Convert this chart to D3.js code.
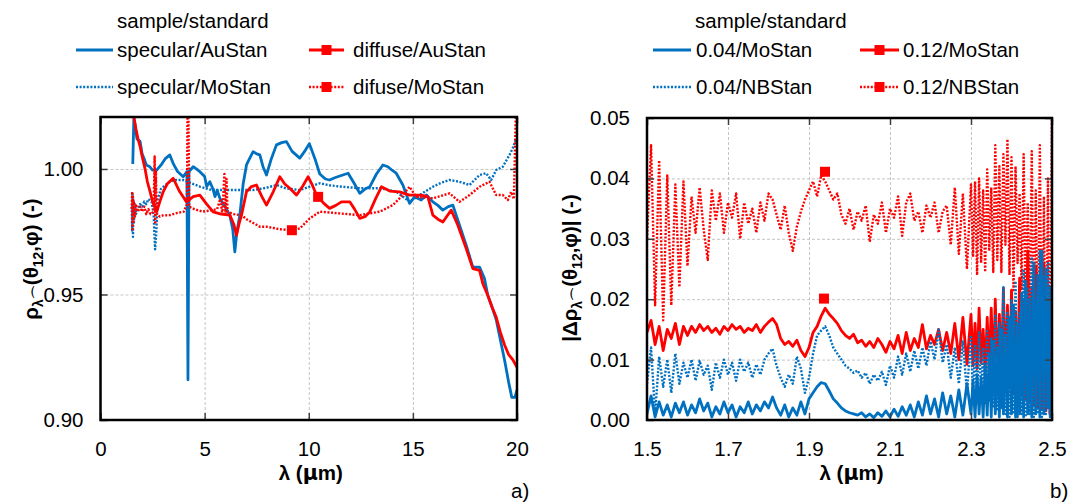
<!DOCTYPE html>
<html>
<head>
<meta charset="utf-8">
<script src="https://cdn.jsdelivr.net/npm/d3@7"></script>
<style>
body{margin:0;background:#fff;}
text{font-family:"Liberation Sans",Arial,sans-serif;fill:#000;}
</style>
</head>
<body>
<svg id="chart" width="1072" height="504"></svg>
<script>
// ---- panel a) : reflectance ratio vs wavelength, [lambda, rho] pairs
var specAu = [[1.55,1.002],[1.6,1.02],[1.65,1.018],[1.75,1.012],[1.9,1.011],[2.0,1.006],[2.1,1.004],[2.2,1.0016],[2.35,1.001],[2.5,0.9995],[2.7,0.9996],[2.9,1.0015],[3.1,1.004],[3.33,1.0056],[3.5,1.002],[3.7,0.999],[3.97,0.9969],[4.15,0.999],[4.2,0.916],[4.25,0.999],[4.45,1.0009],[4.6,1.0],[4.77,0.9989],[5.0,0.997],[5.1,0.993],[5.25,0.9949],[5.4,0.992],[5.5,0.989],[5.6,0.9915],[5.73,0.9884],[5.9,0.986],[6.05,0.984],[6.21,0.9816],[6.35,0.976],[6.45,0.967],[6.55,0.975],[6.69,0.9816],[6.85,0.994],[7.01,1.0016],[7.15,1.004],[7.33,1.0069],[7.5,1.006],[7.65,1.0056],[7.8,1.001],[7.97,0.9976],[8.2,1.004],[8.45,1.0096],[8.7,1.0105],[8.93,1.0109],[9.2,1.007],[9.57,1.0043],[9.8,1.007],[10.03,1.0101],[10.3,1.004],[10.53,0.998],[10.8,0.996],[11.0,0.9956],[11.25,0.9965],[11.49,0.9972],[11.89,0.9983],[12.2,0.994],[12.45,0.9903],[12.7,0.992],[12.93,0.9929],[13.25,0.998],[13.56,1.0016],[13.8,1.0009],[14.0,0.9995],[14.2,0.9983],[14.52,0.9936],[14.84,0.9863],[15.08,0.9889],[15.4,0.9876],[15.65,0.9896],[15.96,0.9869],[16.2,0.9855],[16.44,0.9836],[16.7,0.985],[16.92,0.9856],[17.24,0.9776],[17.56,0.9696],[17.88,0.9609],[18.2,0.9609],[18.44,0.9563],[18.6,0.9496],[18.8,0.945],[19.0,0.940],[19.2,0.932],[19.4,0.924],[19.6,0.915],[19.75,0.909],[19.9,0.909],[20.0,0.912]];
var specMo = [[1.5,0.985],[1.52,0.975],[1.54,0.99],[1.56,0.973],[1.58,0.988],[1.6,0.978],[1.65,0.986],[1.7,0.982],[1.8,0.984],[1.9,0.986],[2.0,0.985],[2.1,0.987],[2.2,0.986],[2.3,0.988],[2.45,0.987],[2.55,0.982],[2.62,0.968],[2.68,0.975],[2.75,0.988],[2.9,0.992],[3.1,0.9935],[3.33,0.995],[3.6,0.9956],[3.97,0.9956],[4.3,0.9945],[4.77,0.993],[5.25,0.9918],[5.73,0.9916],[6.21,0.9916],[6.69,0.9916],[7.33,0.9916],[7.97,0.9925],[8.45,0.9936],[8.93,0.9922],[9.57,0.9916],[10.05,0.993],[10.53,0.9943],[11.0,0.9935],[11.49,0.993],[12.45,0.9923],[13.41,0.9923],[14.2,0.991],[14.84,0.9869],[15.32,0.9896],[15.96,0.9929],[16.36,0.9945],[16.76,0.9956],[17.24,0.9949],[17.72,0.9936],[18.2,0.9976],[18.52,0.9983],[18.76,0.9956],[19.0,0.9996],[19.32,1.0009],[19.64,1.0056],[19.8,1.0083],[19.95,1.012]];
var diffAu = [[1.6,1.021],[1.7,1.016],[1.8,1.012],[1.9,1.009],[2.0,1.005],[2.14,1.0],[2.25,0.995],[2.38,0.991],[2.5,0.987],[2.7,0.983],[2.85,0.987],[3.01,0.9909],[3.2,0.994],[3.49,0.9963],[3.8,0.991],[4.13,0.9869],[4.45,0.989],[4.77,0.9896],[5.1,0.986],[5.41,0.9829],[5.8,0.982],[6.21,0.9816],[6.4,0.978],[6.53,0.9736],[6.65,0.978],[6.77,0.9816],[7.01,0.9909],[7.25,0.993],[7.49,0.9936],[7.75,0.989],[7.97,0.9856],[8.3,0.991],[8.61,0.9969],[8.85,0.994],[9.09,0.9923],[9.41,0.9896],[9.7,0.993],[9.97,0.9969],[10.15,0.994],[10.37,0.9896],[10.7,0.9865],[11.0,0.9843],[11.3,0.9855],[11.57,0.9869],[11.97,0.9869],[12.2,0.984],[12.45,0.9803],[12.7,0.981],[12.93,0.9829],[13.2,0.988],[13.49,0.9929],[13.89,0.9912],[14.36,0.9909],[14.84,0.9896],[15.4,0.9896],[15.72,0.9889],[15.96,0.9816],[16.2,0.980],[16.44,0.9789],[16.84,0.9836],[17.16,0.9776],[17.56,0.9683],[17.88,0.9603],[18.2,0.9596],[18.36,0.9543],[18.6,0.9496],[18.8,0.945],[19.0,0.941],[19.2,0.935],[19.4,0.93],[19.6,0.926],[19.8,0.924],[20.0,0.921]];
var diffMo = [[1.5,0.984],[1.52,0.991],[1.54,0.976],[1.56,0.989],[1.58,0.979],[1.6,0.987],[1.65,0.981],[1.7,0.986],[1.8,0.983],[1.9,0.985],[2.0,0.983],[2.1,0.985],[2.2,0.982],[2.3,0.984],[2.4,0.982],[2.55,0.983],[2.6,1.005],[2.63,0.978],[2.66,0.999],[2.7,0.982],[2.85,0.981],[3.0,0.9815],[3.33,0.9816],[3.7,0.9825],[4.0,0.983],[4.15,0.986],[4.18,1.025],[4.22,1.025],[4.26,0.985],[4.5,0.984],[4.9,0.983],[5.3,0.9835],[5.6,0.984],[5.75,0.988],[5.85,0.982],[5.95,0.998],[6.0,0.982],[6.05,0.996],[6.1,0.983],[6.4,0.982],[6.8,0.9815],[7.0,0.980],[7.33,0.9785],[7.65,0.977],[7.97,0.977],[8.3,0.9765],[8.6,0.976],[9.19,0.9756],[9.57,0.9763],[10.05,0.9803],[10.53,0.983],[11.49,0.9823],[12.45,0.9816],[13.41,0.983],[14.04,0.9856],[14.52,0.9896],[14.84,0.9929],[15.16,0.9889],[15.96,0.9883],[16.76,0.9903],[17.24,0.9869],[17.72,0.9896],[18.2,0.9929],[18.68,0.9949],[19.0,0.9896],[19.32,0.9896],[19.56,0.9876],[19.72,0.9909],[19.85,0.988],[19.95,1.025]];
var diffAuMark = [[10.45,0.9889]];
var diffMoMark = [[9.19,0.9756]];

var aXTicks = [0,5,10,15,20];
var aYTicks = [0.90,0.95,1.00];

// ---- panel b) : absolute difference vs wavelength
var lam = [1.50,1.51,1.52,1.53,1.54,1.55,1.56,1.57,1.58,1.59,
  1.60,1.61,1.62,1.63,1.64,1.65,1.66,1.67,1.68,1.69,
  1.70,1.71,1.72,1.73,1.74,1.75,1.76,1.77,1.78,1.79,
  1.80,1.81,1.82,1.83,1.84,1.85,1.86,1.87,1.88,1.89,
  1.90,1.91,1.92,1.93,1.94,1.95,1.96,1.97,1.98,1.99,
  2.00,2.01,2.02,2.03,2.04,2.05,2.06,2.07,2.08,2.09,
  2.10,2.11,2.12,2.13,2.14,2.15,2.16,2.17,2.18,2.19,
  2.20,2.21,2.22,2.23,2.24,2.25,2.26,2.27,2.28,2.29,
  2.300,2.305,2.310,2.315,2.320,2.325,2.330,2.335,2.340,2.345,
  2.350,2.355,2.360,2.365,2.370,2.375,2.380,2.385,2.390,2.395,
  2.400,2.405,2.410,2.415,2.420,2.425,2.430,2.435,2.440,2.445,
  2.450,2.455,2.460,2.465,2.470,2.475,2.480,2.485,2.490,2.495,
  2.500];
var mo04 = [0.0010,0.0040,0.0005,0.0030,0.0008,0.0025,0.0005,0.0028,0.0012,0.0030,
  0.0008,0.0025,0.0012,0.0035,0.0015,0.0028,0.0005,0.0022,0.0010,0.0030,
  0.0012,0.0025,0.0005,0.0022,0.0012,0.0030,0.0010,0.0025,0.0015,0.0030,
  0.0020,0.0038,0.0020,0.0008,0.0025,0.0005,0.0020,0.0008,0.0030,0.0010,
  0.0035,0.0045,0.0055,0.0062,0.0060,0.0048,0.0035,0.0028,0.0020,0.0015,
  0.0012,0.0010,0.0008,0.0012,0.0005,0.0010,0.0004,0.0012,0.0006,0.0015,
  0.0005,0.0018,0.0006,0.0022,0.0008,0.0025,0.0005,0.0030,0.0008,0.0040,
  0.0010,0.0035,0.0005,0.0045,0.0010,0.0040,0.0005,0.0050,0.0008,0.0060,
  0.0010,0.0065,0.0005,0.0075,0.0010,0.0070,0.0005,0.0090,0.0008,0.0110,
  0.0005,0.0130,0.0010,0.0120,0.0005,0.0150,0.0010,0.0140,0.0005,0.0170,
  0.0010,0.0190,0.0005,0.0160,0.0010,0.0210,0.0005,0.0230,0.0010,0.0200,
  0.0005,0.0260,0.0010,0.0240,0.0005,0.0280,0.0010,0.0250,0.0020,0.0220,
  0.0150];
var nb04 = [0.0060,0.0120,0.0010,0.0105,0.0055,0.0100,0.0045,0.0110,0.0060,0.0095,
  0.0070,0.0100,0.0065,0.0098,0.0075,0.0090,0.0050,0.0095,0.0070,0.0100,
  0.0075,0.0095,0.0065,0.0100,0.0080,0.0095,0.0070,0.0092,0.0075,0.0100,
  0.0110,0.0118,0.0090,0.0070,0.0055,0.0075,0.0060,0.0105,0.0085,0.0045,
  0.0070,0.0110,0.0140,0.0148,0.0155,0.0140,0.0120,0.0110,0.0100,0.0090,
  0.0085,0.0078,0.0082,0.0070,0.0078,0.0060,0.0075,0.0065,0.0080,0.0058,
  0.0090,0.0070,0.0105,0.0075,0.0110,0.0080,0.0115,0.0085,0.0120,0.0090,
  0.0130,0.0100,0.0150,0.0095,0.0125,0.0070,0.0120,0.0060,0.0130,0.0045,
  0.0140,0.0040,0.0125,0.0030,0.0145,0.0035,0.0120,0.0025,0.0150,0.0030,
  0.0135,0.0020,0.0175,0.0015,0.0160,0.0020,0.0220,0.0010,0.0180,0.0005,
  0.0200,0.0010,0.0230,0.0005,0.0180,0.0010,0.0250,0.0005,0.0220,0.0010,
  0.0270,0.0005,0.0200,0.0010,0.0280,0.0005,0.0240,0.0010,0.0260,0.0005,
  0.0210];
var mo12 = [0.0145,0.0165,0.0125,0.0155,0.0115,0.0150,0.0135,0.0160,0.0125,0.0155,
  0.0140,0.0155,0.0145,0.0158,0.0148,0.0155,0.0145,0.0152,0.0142,0.0155,
  0.0148,0.0158,0.0150,0.0155,0.0145,0.0152,0.0148,0.0158,0.0145,0.0155,
  0.0162,0.0168,0.0158,0.0135,0.0125,0.0130,0.0122,0.0132,0.0115,0.0105,
  0.0120,0.0145,0.0155,0.0172,0.0185,0.0175,0.0168,0.0160,0.0148,0.0140,
  0.0135,0.0142,0.0128,0.0132,0.0122,0.0130,0.0120,0.0135,0.0125,0.0112,
  0.0130,0.0118,0.0140,0.0110,0.0145,0.0115,0.0135,0.0120,0.0158,0.0118,
  0.0140,0.0125,0.0150,0.0115,0.0145,0.0110,0.0160,0.0100,0.0170,0.0092,
  0.0175,0.0090,0.0160,0.0085,0.0185,0.0095,0.0150,0.0080,0.0170,0.0085,
  0.0185,0.0075,0.0200,0.0065,0.0175,0.0070,0.0218,0.0060,0.0190,0.0055,
  0.0215,0.0045,0.0180,0.0050,0.0235,0.0040,0.0200,0.0035,0.0280,0.0030,
  0.0220,0.0025,0.0255,0.0020,0.0215,0.0020,0.0260,0.0015,0.0200,0.0010,
  0.0150];
var nb12 = [0.030,0.0455,0.019,0.043,0.0165,0.0405,0.019,0.039,0.022,0.0395,
  0.0255,0.037,0.031,0.0385,0.0315,0.0265,0.038,0.033,0.0375,0.031,
  0.036,0.0335,0.0375,0.030,0.036,0.0325,0.035,0.031,0.036,0.033,
  0.0375,0.0365,0.034,0.0315,0.0355,0.031,0.028,0.032,0.0345,0.0365,
  0.038,0.0395,0.037,0.0405,0.0395,0.038,0.0365,0.0375,0.034,0.0325,
  0.035,0.0315,0.0345,0.033,0.0355,0.0295,0.034,0.0325,0.036,0.031,
  0.035,0.0335,0.037,0.0305,0.036,0.0375,0.033,0.0345,0.031,0.0355,
  0.0335,0.036,0.031,0.0345,0.0355,0.029,0.0385,0.0275,0.0375,0.025,
  0.039,0.027,0.0395,0.024,0.040,0.026,0.038,0.0245,0.0415,0.028,
  0.0385,0.0245,0.0455,0.0265,0.042,0.0245,0.044,0.029,0.0465,0.024,
  0.0435,0.0215,0.042,0.026,0.0375,0.0215,0.044,0.019,0.036,0.016,
  0.0445,0.012,0.038,0.009,0.0455,0.005,0.037,0.002,0.040,0.001,
  0.052];
var mo12Mark = [[1.937,0.0201]];
var nb12Mark = [[1.9395,0.0411]];

var bXTicks = [1.5,1.7,1.9,2.1,2.3,2.5];
var bYTicks = [0.00,0.01,0.02,0.03,0.04,0.05];

var BLUE = "#0070C0", RED = "#FF0000";
var DOT = "2,1.6";
var FS = 20.5;

var svg = d3.select("#chart");

function pairs(xs, ys) {
    return xs.map(function(x, k) { return [x, ys[k]]; });
}

function drawPanel(p) {
    var x = d3.scaleLinear().domain(p.xDom).range([p.left, p.right]);
    var y = d3.scaleLinear().domain(p.yDom).range([p.bottom, p.top]);
    var w = p.right - p.left, h = p.bottom - p.top;
    var g = svg.append("g");

    g.append("clipPath").attr("id", p.id + "clip")
      .append("rect").attr("x", p.left).attr("y", p.top).attr("width", w).attr("height", h);

    // dashed grid
    var grid = g.append("g").attr("class", "grid");
    grid.append("g").attr("transform", "translate(0," + p.bottom + ")")
      .call(d3.axisBottom(x).tickValues(p.xTicks).tickSize(-h).tickFormat(""));
    grid.append("g").attr("transform", "translate(" + p.left + ",0)")
      .call(d3.axisLeft(y).tickValues(p.yTicks).tickSize(-w).tickFormat(""));
    grid.selectAll(".domain").remove();
    grid.selectAll("line").attr("stroke", "#c4c4c4").attr("stroke-width", 1).attr("stroke-dasharray", "3,2");

    // data
    var line = d3.line().x(function(d) { return x(d[0]); }).y(function(d) { return y(d[1]); });
    var data = g.append("g").attr("clip-path", "url(#" + p.id + "clip)");
    p.series.forEach(function(s) {
        data.append("path").datum(s.pts)
          .attr("d", line)
          .attr("fill", "none")
          .attr("stroke", s.color)
          .attr("stroke-width", s.dash ? 2.4 : 2.8)
          .attr("stroke-dasharray", s.dash ? DOT : null)
          .attr("stroke-linejoin", "round");
    });
    p.marks.forEach(function(m) {
        data.selectAll(null).data(m).enter().append("rect")
          .attr("x", function(d) { return x(d[0]) - 5; })
          .attr("y", function(d) { return y(d[1]) - 5; })
          .attr("width", 10).attr("height", 10)
          .attr("fill", RED);
    });

    // inward tick marks on all four sides
    var tk = g.append("g");
    tk.append("g").attr("transform", "translate(0," + p.bottom + ")").call(d3.axisTop(x).tickValues(p.xTicks).tickSize(7).tickFormat(""));
    tk.append("g").attr("transform", "translate(0," + p.top + ")").call(d3.axisBottom(x).tickValues(p.xTicks).tickSize(7).tickFormat(""));
    tk.append("g").attr("transform", "translate(" + p.left + ",0)").call(d3.axisRight(y).tickValues(p.yTicks).tickSize(7).tickFormat(""));
    tk.append("g").attr("transform", "translate(" + p.right + ",0)").call(d3.axisLeft(y).tickValues(p.yTicks).tickSize(7).tickFormat(""));
    tk.selectAll(".domain").remove();
    tk.selectAll("line").attr("stroke", "#404040").attr("stroke-width", 1.5);

    // tick labels
    var xl = g.append("g").attr("transform", "translate(0," + p.bottom + ")")
      .call(d3.axisBottom(x).tickValues(p.xTicks).tickSize(0).tickPadding(21).tickFormat(p.xFmt));
    var yl = g.append("g").attr("transform", "translate(" + p.left + ",0)")
      .call(d3.axisLeft(y).tickValues(p.yTicks).tickSize(0).tickPadding(17).tickFormat(p.yFmt));
    [xl, yl].forEach(function(a) {
        a.select(".domain").remove();
        a.selectAll("text").attr("font-size", FS).attr("font-family", "Liberation Sans, Arial, sans-serif").attr("fill", "#000");
    });

    // frame
    g.append("rect").attr("x", p.left).attr("y", p.top).attr("width", w).attr("height", h)
      .attr("fill", "none").attr("stroke", "#000").attr("stroke-width", 2.5);

    // x title
    var xt = g.append("text").attr("x", (p.left + p.right) / 2 + 2).attr("y", 480)
      .attr("text-anchor", "middle").attr("font-size", FS).attr("font-weight", "bold");
    xt.append("tspan").text("λ (");
    xt.append("tspan").text("μ").attr("font-family", "DejaVu Sans");
    xt.append("tspan").text("m)");

    // y title with subscripts
    var yt = g.append("text")
      .attr("transform", "translate(" + p.yTitleX + "," + p.yTitleY + ") rotate(-90)")
      .attr("text-anchor", "middle").attr("font-size", FS).attr("font-weight", "bold");
    yt.append("tspan").text(p.yPre + "ρ");
    yt.append("tspan").text("λ⌒").attr("font-size", 14).attr("dy", 5);
    yt.append("tspan").text("(θ").attr("dy", -5);
    yt.append("tspan").text("12").attr("font-size", 14).attr("dy", 5);
    yt.append("tspan").text(",φ)" + p.yPost + " (-)").attr("dy", -5);

    // panel letter
    g.append("text").attr("x", p.letterX).attr("y", 498).attr("font-size", FS).text(p.letter);

    // legend
    var lg = g.append("g");
    lg.append("text").attr("x", p.leg.titleX).attr("y", 28).attr("font-size", FS).text("sample/standard");
    p.leg.items.forEach(function(it) {
        var ly = it.row === 0 ? 50 : 87;
        lg.append("line").attr("x1", it.x1).attr("x2", it.x2).attr("y1", ly).attr("y2", ly)
          .attr("stroke", it.color).attr("stroke-width", it.dash ? 2.4 : 2.8)
          .attr("stroke-dasharray", it.dash ? DOT : null);
        if (it.mark) {
            lg.append("rect").attr("x", (it.x1 + it.x2) / 2 - 5).attr("y", ly - 5)
              .attr("width", 10).attr("height", 10).attr("fill", it.color);
        }
        lg.append("text").attr("x", it.tx).attr("y", ly + 7).attr("font-size", FS).text(it.label);
    });
}

drawPanel({
    id: "a", left: 100.5, right: 517, top: 117, bottom: 420,
    xDom: [0, 20], yDom: [0.9, 1.0207],
    xTicks: aXTicks, yTicks: aYTicks,
    xFmt: d3.format("d"), yFmt: d3.format(".2f"),
    series: [
        {pts: specMo, color: BLUE, dash: true},
        {pts: specAu, color: BLUE, dash: false},
        {pts: diffMo, color: RED, dash: true},
        {pts: diffAu, color: RED, dash: false}
    ],
    marks: [diffAuMark, diffMoMark],
    yPre: "", yPost: "", yTitleX: 38, yTitleY: 259,
    letter: "a)", letterX: 511,
    leg: {titleX: 117, items: [
        {row: 0, x1: 76, x2: 113, tx: 117, color: BLUE, dash: false, label: "specular/AuStan"},
        {row: 1, x1: 76, x2: 113, tx: 117, color: BLUE, dash: true, label: "specular/MoStan"},
        {row: 0, x1: 309, x2: 344, tx: 353, color: RED, dash: false, mark: true, label: "diffuse/AuStan"},
        {row: 1, x1: 309, x2: 344, tx: 353, color: RED, dash: true, mark: true, label: "difuse/MoStan"}
    ]}
});

drawPanel({
    id: "b", left: 647, right: 1052, top: 118, bottom: 420,
    xDom: [1.5, 2.5], yDom: [0, 0.05],
    xTicks: bXTicks, yTicks: bYTicks,
    xFmt: d3.format(".1f"), yFmt: d3.format(".2f"),
    series: [
        {pts: pairs(lam, nb12), color: RED, dash: true},
        {pts: pairs(lam, mo12), color: RED, dash: false},
        {pts: pairs(lam, nb04), color: BLUE, dash: true},
        {pts: pairs(lam, mo04), color: BLUE, dash: false}
    ],
    marks: [mo12Mark, nb12Mark],
    yPre: "|Δ", yPost: "|", yTitleX: 577, yTitleY: 268,
    letter: "b)", letterX: 1050,
    leg: {titleX: 695, items: [
        {row: 0, x1: 653, x2: 691, tx: 696, color: BLUE, dash: false, label: "0.04/MoStan"},
        {row: 1, x1: 653, x2: 691, tx: 696, color: BLUE, dash: true, label: "0.04/NBStan"},
        {row: 0, x1: 860, x2: 899, tx: 903, color: RED, dash: false, mark: true, label: "0.12/MoStan"},
        {row: 1, x1: 860, x2: 899, tx: 903, color: RED, dash: true, mark: true, label: "0.12/NBStan"}
    ]}
});
</script>
</body>
</html>
